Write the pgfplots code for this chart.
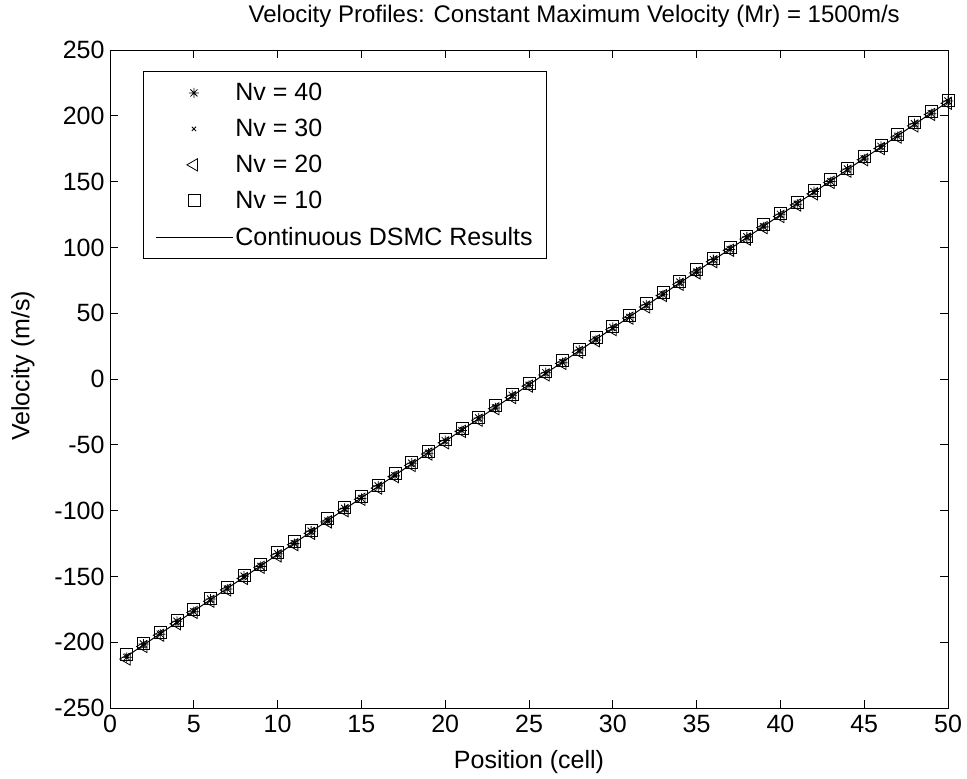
\documentclass[border=0pt]{standalone}
\usepackage{fontspec}
\setmainfont{Liberation Sans}
\usepackage{pgfplots}
\usepackage{pgfplotstable}
\pgfplotsset{compat=1.18}

% MATLAB-style '*' marker: plus and cross together
\pgfdeclareplotmark{mstar}{%
  \pgfpathmoveto{\pgfqpoint{0pt}{\pgfplotmarksize}}%
  \pgfpathlineto{\pgfqpoint{0pt}{-\pgfplotmarksize}}%
  \pgfpathmoveto{\pgfqpoint{\pgfplotmarksize}{0pt}}%
  \pgfpathlineto{\pgfqpoint{-\pgfplotmarksize}{0pt}}%
  \pgfpathmoveto{\pgfqpoint{0.707\pgfplotmarksize}{0.707\pgfplotmarksize}}%
  \pgfpathlineto{\pgfqpoint{-0.707\pgfplotmarksize}{-0.707\pgfplotmarksize}}%
  \pgfpathmoveto{\pgfqpoint{0.707\pgfplotmarksize}{-0.707\pgfplotmarksize}}%
  \pgfpathlineto{\pgfqpoint{-0.707\pgfplotmarksize}{0.707\pgfplotmarksize}}%
  \pgfusepathqstroke}

% x = cell, v = continuous DSMC, then the four Nv runs
\pgfplotstableread{
x  v       n40     n30     n20     n10
1  -210.7  -211.5  -210.2  -212.8  -209.6
2  -202.1  -201.4  -202.9  -203.3  -200.8
3  -193.5  -193.9  -192.6  -194.7  -192.2
4  -184.9  -184.1  -185.6  -186.0  -183.7
5  -176.3  -176.8  -175.7  -177.4  -175.1
6  -167.7  -167.2  -168.3  -168.9  -166.5
7  -159.1  -159.6  -158.5  -160.3  -158.0
8  -150.5  -149.8  -151.1  -151.6  -149.2
9  -141.9  -142.4  -141.3  -143.1  -140.7
10 -133.3  -132.8  -133.9  -134.4  -132.1
11 -124.7  -125.1  -124.2  -125.9  -123.5
12 -116.1  -115.6  -116.7  -117.3  -114.9
13 -107.5  -108.0  -106.9  -108.6  -106.3
14 -98.9   -98.3   -99.5   -100.1  -97.7
15 -90.3   -90.8   -89.7   -91.4   -89.1
16 -81.7   -81.2   -82.3   -82.9   -80.5
17 -73.1   -73.6   -72.5   -74.2   -71.9
18 -64.5   -64.0   -65.1   -65.7   -63.3
19 -55.9   -56.4   -55.3   -57.0   -54.7
20 -47.3   -46.8   -47.9   -48.5   -46.1
21 -38.7   -39.2   -38.1   -39.8   -37.5
22 -30.1   -29.6   -30.7   -31.3   -28.9
23 -21.5   -22.0   -20.9   -22.6   -20.3
24 -12.9   -12.4   -13.5   -14.1   -11.7
25 -4.3    -4.8    -3.7    -5.4    -3.1
26 4.3     4.8     3.7     3.1     5.5
27 12.9    12.4    13.5    11.8    14.1
28 21.5    22.0    20.9    20.3    22.7
29 30.1    29.6    30.7    29.0    31.3
30 38.7    39.2    38.1    37.5    39.9
31 47.3    46.8    47.9    46.2    48.5
32 55.9    56.4    55.3    54.7    57.1
33 64.5    64.0    65.1    63.4    65.7
34 73.1    73.6    72.5    71.9    74.3
35 81.7    81.2    82.3    80.6    82.9
36 90.3    90.8    89.7    89.1    91.5
37 98.9    98.4    99.5    97.8    100.1
38 107.5   108.0   106.9   106.3   108.7
39 116.1   115.6   116.7   115.0   117.3
40 124.7   125.2   124.1   123.5   125.9
41 133.3   132.8   133.9   132.2   134.5
42 141.9   142.4   141.3   140.7   143.1
43 150.5   150.0   151.1   149.4   151.7
44 159.1   159.6   158.5   157.9   160.3
45 167.7   167.2   168.3   166.6   168.9
46 176.3   176.8   175.7   175.1   177.5
47 184.9   184.4   185.5   183.8   186.1
48 193.5   194.0   192.9   192.3   194.7
49 202.1   201.6   202.7   201.0   203.3
50 210.7   211.2   210.1   209.5   211.9
}\vel

\begin{document}
\begin{tikzpicture}
\begin{axis}[
    name=ax,
    scale only axis,
    width=838pt,
    height=658pt,
    xmin=0, xmax=50,
    ymin=-250, ymax=250,
    xtick={0,5,...,50},
    ytick={-250,-200,...,250},
    tick align=inside,
    xtick pos=both, ytick pos=both,
    major tick length=8pt,
    axis line style={black, line width=0.8pt},
    tick style={black, line width=0.8pt},
    font=\fontsize{25}{30}\selectfont,
    /pgf/number format/assume math mode=true,
    xticklabel style={yshift=-4pt},
    yticklabel style={xshift=-2pt},
    title={\fontsize{24}{28}\selectfont Velocity Profiles: Constant Maximum Velocity (Mr) = 1500m/s},
    title style={at={(axis description cs:0.554,1.042)}, anchor=center},
    xlabel={Position (cell)},
    xlabel style={at={(axis description cs:0.5,-0.082)}, anchor=center},
    ylabel={Velocity (m/s)},
    ylabel style={at={(axis description cs:-0.104,0.52)}, anchor=center},
    legend style={
        at={(axis description cs:0.0394,0.968)}, anchor=north west,
        draw=black, line width=0.8pt,
        inner xsep=12pt, inner ysep=10pt,
        row sep=13pt,
        /tikz/every even column/.append style={column sep=4pt},
    },
    legend cell align=left,
    legend image code/.code={\draw[mark repeat=2, mark phase=2]
        plot coordinates {(0pt,0pt) (38pt,0pt) (77pt,0pt)};},
]
\addplot[only marks, mark=mstar, mark size=5pt, line width=0.8pt] table[x=x, y=n40] {\vel};
\addplot[only marks, mark=x, mark size=3pt, line width=0.8pt] table[x=x, y=n30] {\vel};
\addplot[only marks, mark=triangle, mark size=7pt, line width=0.8pt,
    every mark/.append style={rotate=90}] table[x=x, y=n20] {\vel};
\addplot[only marks, mark=square, mark size=6pt, line width=0.8pt] table[x=x, y=n10] {\vel};
\addplot[black, line width=1pt, no marks] table[x=x, y=v] {\vel};
\legend{Nv = 40, Nv = 30, Nv = 20, Nv = 10, Continuous DSMC Results}
\end{axis}
\pgfresetboundingbox
\path[use as bounding box] ([shift={(-110pt,-70pt)}]ax.south west)
    rectangle ([shift={(19pt,50pt)}]ax.north east);
\end{tikzpicture}
\end{document}
